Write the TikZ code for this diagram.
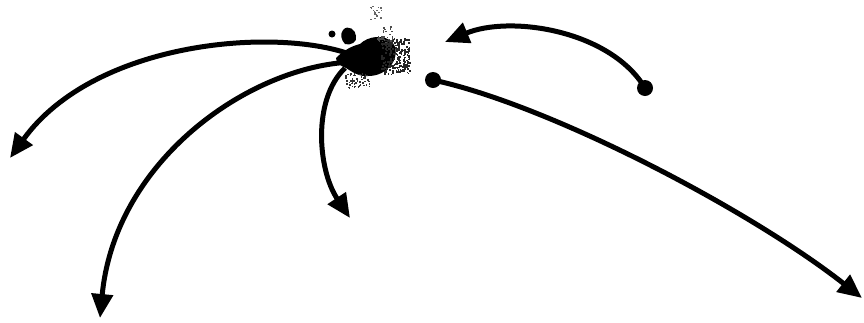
\documentclass[tikz,border=0pt]{standalone}
\usetikzlibrary{arrows.meta}
\begin{document}
\begin{tikzpicture}[x=1pt,y=-1pt,
  arr/.style={line width=5pt,-{Triangle[length=24pt,width=21pt]}},
  dotnode/.style={circle,fill=black,inner sep=0pt,minimum size=16pt}]
\useasboundingbox (0,0) rectangle (864,322);
% splotch core
\fill[black] (336,58) .. controls (344,50) and (352,46) .. (360,44)
  .. controls (368,36) and (384,34) .. (392,42)
  .. controls (398,48) and (396,58) .. (392,64)
  .. controls (386,72) and (378,76) .. (368,76)
  .. controls (360,77) and (352,72) .. (346,68)
  .. controls (340,66) and (336,62) .. (336,58) -- cycle;
\fill[black] (343,30) .. controls (348,24) and (356,30) .. (356,36)
  .. controls (358,42) and (350,46) .. (345,44)
  .. controls (341,40) and (340,34) .. (343,30) -- cycle;
\fill[black] (332,34) circle (3.5pt);
\pgfmathsetseed{11}
\foreach \i in {1,...,220}{
  \pgfmathsetmacro{\px}{395+14*rand}
  \pgfmathsetmacro{\py}{56+18*rand}
  \fill[black!85] (\px,\py) rectangle ++(1.8,1.8);
}
\foreach \i in {1,...,60}{
  \pgfmathsetmacro{\px}{357+12*rand}
  \pgfmathsetmacro{\py}{80+7*rand}
  \fill[black!80] (\px,\py) rectangle ++(1.6,1.6);
}
\foreach \i in {1,...,20}{
  \pgfmathsetmacro{\px}{375+6*rand}
  \pgfmathsetmacro{\py}{12+7*rand}
  \fill[black!60] (\px,\py) rectangle ++(1.4,1.4);
}
\foreach \i in {1,...,30}{
  \pgfmathsetmacro{\px}{384+8*rand}
  \pgfmathsetmacro{\py}{34+8*rand}
  \fill[black!70] (\px,\py) rectangle ++(1.6,1.6);
}
\coordinate (s1) at (355,56);
\coordinate (s2) at (352,62);
\coordinate (s3) at (345,68);
\coordinate (t1) at (10,158);
\coordinate (t2) at (100,318);
\coordinate (t3) at (350,218);
\coordinate (t4) at (445,42);
\coordinate (t5) at (862,298);
\node[dotnode] (d1) at (645,88) {};
\node[dotnode] (d2) at (433,80) {};
\draw[arr] (s1) .. controls (280,26) and (95,40) .. (t1);
\draw[arr] (s2) .. controls (250,66) and (115,160) .. (t2);
\draw[arr] (s3) .. controls (312,100) and (318,170) .. (t3);
\draw[arr] (d1.center) .. controls (610,30) and (510,15) .. (t4);
\draw[arr] (d2.center) .. controls (550,105) and (750,210) .. (t5);
\end{tikzpicture}
\end{document}
